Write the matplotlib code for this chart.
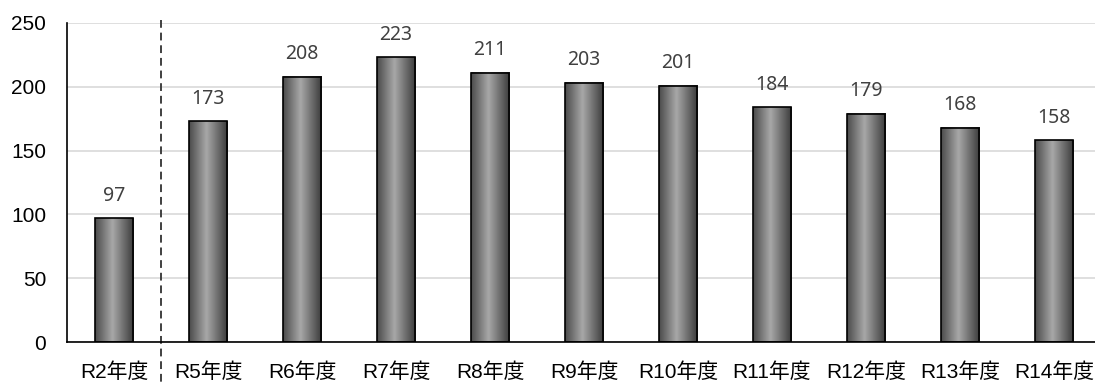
import matplotlib
matplotlib.use("Agg")
import matplotlib.pyplot as plt
import numpy as np
from matplotlib.colors import LinearSegmentedColormap

plt.rcParams['font.family'] = ['Liberation Sans', 'Noto Sans CJK JP', 'DejaVu Sans']

categories = ["R2年度", "R5年度", "R6年度", "R7年度", "R8年度", "R9年度",
              "R10年度", "R11年度", "R12年度", "R13年度", "R14年度"]
values = [97, 173, 208, 223, 211, 203, 201, 184, 179, 168, 158]
yticks = [0, 50, 100, 150, 200, 250]

fig = plt.figure(figsize=(10.95, 3.83), dpi=100)
ax = fig.add_axes([67/1095, 1-342/383, 1034/1095, 319/383])

x = np.arange(len(categories))
bars = ax.bar(x, values, width=0.41, color='none', edgecolor='black',
              linewidth=1.2, zorder=4)

cmap = LinearSegmentedColormap.from_list(
    'cyl', [(0.0, '#4a4a4a'), (0.45, '#a8a8a8'), (1.0, '#3a3a3a')])
grad = np.linspace(0, 1, 256).reshape(1, -1)
for b in bars:
    x0, w, h = b.get_x(), b.get_width(), b.get_height()
    ax.imshow(grad, cmap=cmap, extent=[x0, x0 + w, 0, h], aspect='auto',
              zorder=3, interpolation='bicubic')

for xi, v in zip(x, values):
    ax.annotate(str(v), (xi, v), xytext=(0, 9), textcoords='offset points',
                ha='center', va='bottom', fontsize=14, color='#404040',
                family=['Noto Sans', 'DejaVu Sans'])

ax.set_xlim(-0.5, len(categories) - 0.5)
ax.set_ylim(0, 250)
ax.set_yticks(yticks)
ax.set_xticks(x)
ax.set_xticklabels(categories, fontsize=15, color='black')
ax.tick_params(axis='y', length=0, pad=15, labelsize=15, labelcolor='black')
ax.tick_params(axis='x', length=0, pad=15)

ax.yaxis.grid(True, color='#d9d9d9', linewidth=1.2, zorder=0)
ax.set_axisbelow(True)
for s in ['top', 'right']:
    ax.spines[s].set_visible(False)
ax.spines['left'].set_color('black')
ax.spines['bottom'].set_color('black')
ax.spines['left'].set_linewidth(1.2)
ax.spines['bottom'].set_linewidth(1.2)
ax.spines['bottom'].set_zorder(5)

ax.plot([0.5, 0.5], [252, -32], color='#404040', linestyle=(0, (4, 2.5)),
        linewidth=1.4, clip_on=False, zorder=5)

fig.savefig('out.png', dpi=100)
